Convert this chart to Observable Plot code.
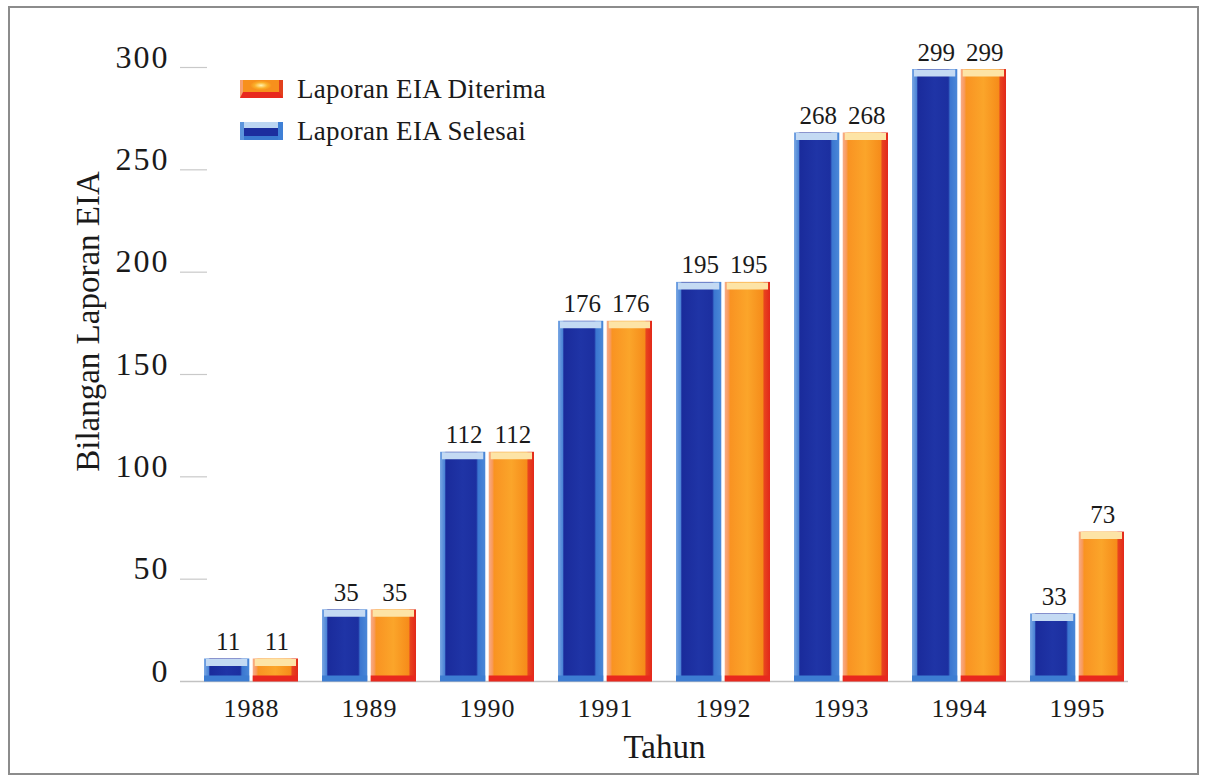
<!DOCTYPE html>
<html><head><meta charset="utf-8">
<script src="https://cdn.jsdelivr.net/npm/d3@7"></script>
<script src="https://cdn.jsdelivr.net/npm/@observablehq/plot@0.6"></script>
<style>
body{margin:0;background:#fff;font-family:"Liberation Serif",serif;color:#1a1a1a}
#wrap{position:relative;width:1206px;height:779px;overflow:hidden;background:#fff}
#chart{position:absolute;left:0;top:0}
#frame{position:absolute;left:8px;top:6px;width:1187px;height:765px;border:2px solid #8c8c8c;pointer-events:none}
#legend{position:absolute;left:240px;top:68px;font-size:27px;letter-spacing:0.3px;line-height:42px}
.item{display:flex;align-items:center;height:42px}
.sw{width:43px;height:18px;margin-right:14px;box-sizing:border-box}
.sw.o{background:radial-gradient(ellipse 30% 40% at 50% 45%,#fff3b0 0%,#fbb02a 60%,#f7901c 100%);border-bottom:6px solid #e8281e;border-left:3px solid #f6a070;border-right:4px solid #e2401c}
.sw.b{background:linear-gradient(#bcd6f2 0 35%,#1c2e9e 35% 80%,#3a7ad0 80%);border-left:4px solid #5d95dc;border-right:5px solid #3f80d6}
g[aria-label="y-axis tick label"] text{letter-spacing:2px}
g[aria-label="x-axis tick label"] text{letter-spacing:1px}
g[aria-label="value label"] text{letter-spacing:2px}
</style></head><body>
<div id="wrap"><div id="chart"></div><div id="legend"></div><div id="frame"></div></div>
<script>
const years = ["1988","1989","1990","1991","1992","1993","1994","1995"];
const selesai = [11, 35, 112, 176, 195, 268, 299, 33];
const diterima = [11, 35, 112, 176, 195, 268, 299, 73];
const yTicks = [0, 50, 100, 150, 200, 250, 300];
const seriesNames = ["Laporan EIA Diterima", "Laporan EIA Selesai"];
const xTitle = "Tahun";
const yTitle = "Bilangan Laporan EIA";

const W = 1206, H = 779, ML = 180, MR = 58, MT = 67, MB = 98, PAD = 0.2;
const step = (W - ML - MR) / (years.length - PAD + 2 * PAD);
const bw = step * (1 - PAD);
const half = bw / 2 + 1.5;
const off = bw / 4 + 0.75;

const blue = years.map((y, i) => ({year: y, value: selesai[i]}));
const orange = years.map((y, i) => ({year: y, value: diterima[i]}));

const svg = Plot.plot({
  width: W, height: H,
  marginLeft: ML, marginRight: MR, marginTop: MT, marginBottom: MB,
  style: {fontFamily: "'Liberation Serif', serif", color: "#1a1a1a", background: "transparent"},
  x: {domain: years, padding: PAD, axis: null},
  y: {domain: [0, 300], axis: null},
  marks: [
    Plot.ruleY(yTicks.slice(1), {stroke: "#c9c9c9", strokeWidth: 1.2, insetRight: (W - ML - MR) - 27}),
    Plot.ruleY([0], {stroke: "#c2c2c2", strokeWidth: 1.5, insetRight: 20}),
    Plot.axisY({ticks: yTicks, tickSize: 0, tickPadding: 11, dy: -10, line: true, stroke: "#c9c9c9", fontSize: 32, label: null, tickFormat: d => d}),
    Plot.axisX({tickSize: 0, tickPadding: 17, fontSize: 26, label: null}),
    Plot.text([xTitle], {frameAnchor: "bottom", dy: 66, fontSize: 33, lineAnchor: "middle"}),
    Plot.text([yTitle], {frameAnchor: "left", rotate: -90, dx: -92, dy: -53, fontSize: 33, lineAnchor: "middle", textAnchor: "middle"}),
    // bars
    Plot.barY(blue, {x: "year", y: "value", fill: "url(#gBlue)", insetRight: half}),
    Plot.barY(orange, {x: "year", y: "value", fill: "url(#gOrange)", insetLeft: half}),
    // top caps
    Plot.tickY(blue, {x: "year", y: "value", stroke: "#c4daf3", strokeWidth: 7, dy: 3.5, insetRight: half + 2, insetLeft: 2}),
    Plot.tickY(orange, {x: "year", y: "value", stroke: "#fde4a6", strokeWidth: 7, dy: 3.5, insetLeft: half + 2, insetRight: 2}),
    // bottom strips
    Plot.tickY(blue, {x: "year", y: 0, stroke: "#3d7dd2", strokeWidth: 6, dy: -3, insetRight: half}),
    Plot.tickY(orange, {x: "year", y: 0, stroke: "#e8281e", strokeWidth: 6, dy: -3, insetLeft: half}),
    // value labels
    Plot.text(blue, {x: "year", y: "value", text: "value", dx: -off + 1, dy: -9, lineAnchor: "bottom", fontSize: 25, ariaLabel: "value label"}),
    Plot.text(orange, {x: "year", y: "value", text: "value", dx: off + 1, dy: -9, lineAnchor: "bottom", fontSize: 25, ariaLabel: "value label"})
  ]
});

const ns = "http://www.w3.org/2000/svg";
const defs = document.createElementNS(ns, "defs");
defs.innerHTML = `
<linearGradient id="gBlue" x1="0" x2="1" y1="0" y2="0">
  <stop offset="0" stop-color="#7aa8e4"/><stop offset="0.1" stop-color="#4c84d6"/>
  <stop offset="0.13" stop-color="#1a2b9b"/><stop offset="0.5" stop-color="#1f34a6"/>
  <stop offset="0.8" stop-color="#1c2fa0"/><stop offset="0.84" stop-color="#3b76d0"/>
  <stop offset="1" stop-color="#4a88d8"/>
</linearGradient>
<linearGradient id="gOrange" x1="0" x2="1" y1="0" y2="0">
  <stop offset="0" stop-color="#f7ac88"/><stop offset="0.08" stop-color="#f89a5c"/>
  <stop offset="0.12" stop-color="#f99322"/><stop offset="0.5" stop-color="#fba52a"/>
  <stop offset="0.84" stop-color="#f68c1a"/><stop offset="0.87" stop-color="#e8441e"/>
  <stop offset="1" stop-color="#e2281a"/>
</linearGradient>`;
svg.prepend(defs);
document.getElementById("chart").append(svg);

const legend = document.getElementById("legend");
[["o", seriesNames[0]], ["b", seriesNames[1]]].forEach(([c, name]) => {
  const it = document.createElement("div");
  it.className = "item";
  it.innerHTML = `<div class="sw ${c}"></div><span></span>`;
  it.querySelector("span").textContent = name;
  legend.append(it);
});
</script>
</body></html>
